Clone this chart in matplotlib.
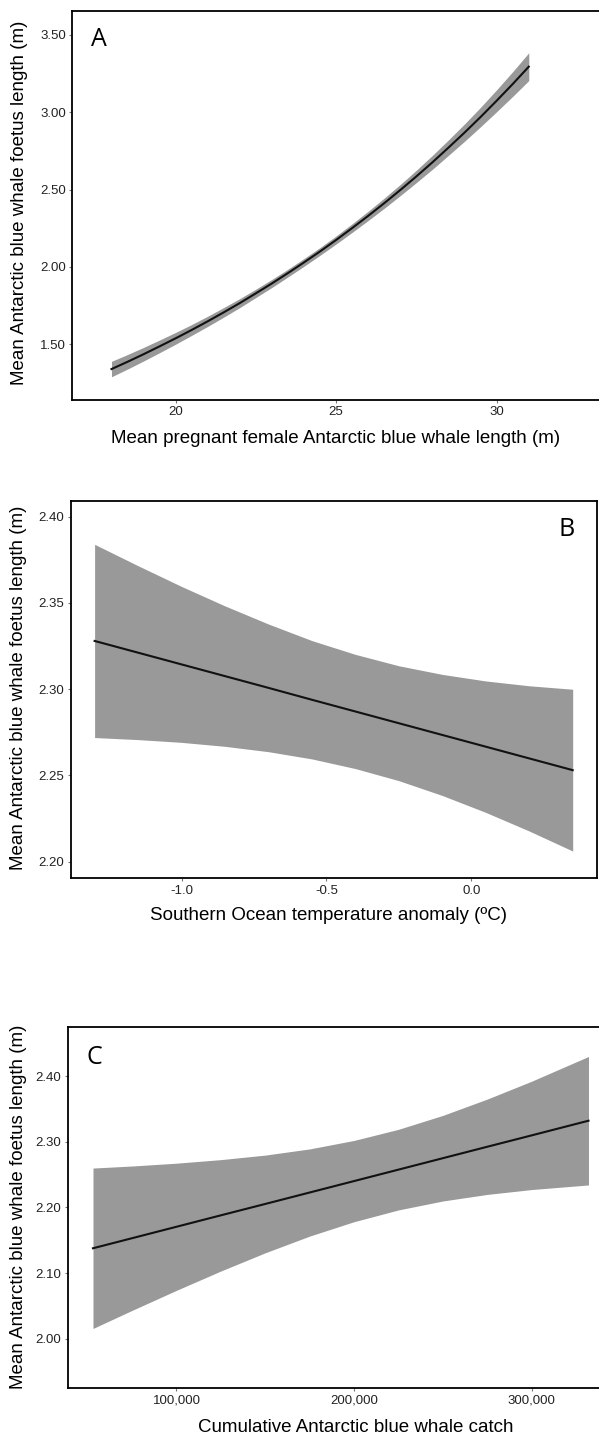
import numpy as np
import matplotlib
matplotlib.use("Agg")
import matplotlib.pyplot as plt
from matplotlib.ticker import FuncFormatter

plt.rcParams["axes.unicode_minus"] = False

# panel A: foetus length vs mother length (fit and half-width of the band)
a_x = [18, 18.5, 19, 19.5, 20, 20.5, 21, 21.5, 22, 22.5, 23, 23.5, 24, 24.5,
       25, 25.5, 26, 26.5, 27, 27.5, 28, 28.5, 29, 29.5, 30, 30.5, 31]
a_fit = [1.340, 1.387, 1.436, 1.487, 1.539, 1.593, 1.649, 1.707, 1.767, 1.830,
         1.894, 1.961, 2.030, 2.101, 2.175, 2.252, 2.331, 2.413, 2.498, 2.586,
         2.677, 2.772, 2.869, 2.970, 3.075, 3.183, 3.295]
a_hw = [0.050, 0.047, 0.044, 0.041, 0.038, 0.035, 0.033, 0.031, 0.029, 0.027,
        0.026, 0.025, 0.025, 0.025, 0.026, 0.028, 0.030, 0.033, 0.036, 0.040,
        0.045, 0.050, 0.056, 0.063, 0.071, 0.080, 0.090]

# panel B: temperature anomaly
b_x = [-1.30, -1.15, -1.00, -0.85, -0.70, -0.55, -0.40, -0.25, -0.10, 0.05, 0.20, 0.35]
b_fit = [2.3280, 2.3212, 2.3144, 2.3076, 2.3008, 2.2939, 2.2871, 2.2803, 2.2735, 2.2667, 2.2599, 2.2531]
b_hw = [0.0560, 0.0504, 0.0452, 0.0407, 0.0370, 0.0343, 0.0331, 0.0333, 0.0351, 0.0381, 0.0421, 0.0469]

# panel C: cumulative catch
c_x = [53000, 75000, 100000, 125000, 150000, 175000, 200000, 225000, 250000, 275000, 300000, 332000]
c_fit = [2.1380, 2.1533, 2.1707, 2.1881, 2.2054, 2.2228, 2.2402, 2.2576, 2.2750, 2.2924, 2.3097, 2.3320]
c_hw = [0.1220, 0.1098, 0.0967, 0.0847, 0.0743, 0.0663, 0.0618, 0.0613, 0.0651, 0.0725, 0.0824, 0.0977]

ylab = "Mean Antarctic blue whale foetus length (m)"
W, H = 599, 1436
fig = plt.figure(figsize=(W / 100, H / 100), dpi=100)

def box(l, r, t, b):
    return [l / W, (H - b) / H, (r - l) / W, (b - t) / H]

tickfont = ["Liberation Sans Narrow", "Liberation Sans", "DejaVu Sans"]
labfont = ["Liberation Sans", "DejaVu Sans"]

def panel(pos, x, fit, hw, xlim, ylim, xticks, yticks, xfmt, yfmt):
    ax = fig.add_axes(pos)
    fit = np.array(fit)
    hw = np.array(hw)
    ax.fill_between(x, fit - hw, fit + hw, color="#999999", lw=0)
    ax.plot(x, fit, color="#111111", lw=1.5)
    ax.set_xlim(*xlim)
    ax.set_ylim(*ylim)
    ax.set_xticks(xticks)
    ax.set_yticks(yticks)
    ax.xaxis.set_major_formatter(FuncFormatter(xfmt))
    ax.yaxis.set_major_formatter(FuncFormatter(yfmt))
    for s in ax.spines.values():
        s.set_linewidth(1.3)
        s.set_color("black")
    ax.tick_params(length=2.5, width=0.8, color="#777777", pad=2,
                   labelsize=9.5, labelcolor="#222222")
    for lab in ax.get_xticklabels() + ax.get_yticklabels():
        lab.set_family(tickfont)
    return ax

f2 = lambda v, p: f"{v:.2f}"
panel(box(72, 601, 11, 400), a_x, a_fit, a_hw, (16.77, 33.25), (1.14, 3.655),
      [20, 25, 30], [1.5, 2.0, 2.5, 3.0, 3.5], lambda v, p: f"{v:.0f}", f2)
panel(box(70.7, 596.6, 500.7, 878.3), b_x, b_fit, b_hw, (-1.3825, 0.4325), (2.1904, 2.4093),
      [-1.0, -0.5, 0.0], [2.20, 2.25, 2.30, 2.35, 2.40], lambda v, p: f"{v:.1f}", f2)
panel(box(67.6, 613, 1026.7, 1388.3), c_x, c_fit, c_hw, (38700, 345800), (1.925, 2.475),
      [100000, 200000, 300000], [2.0, 2.1, 2.2, 2.3, 2.4], lambda v, p: f"{v:,.0f}", f2)

def ftext(x, y, s, **kw):
    fig.text(x / W, 1 - y / H, s, ha="center", va="center", **kw)

# axis titles
ftext(20, 203, ylab, rotation=90, fontsize=13.5, family=labfont)
ftext(19, 688, ylab, rotation=90, fontsize=13.5, family=labfont)
ftext(19, 1207, ylab, rotation=90, fontsize=13.5, family=labfont)
ftext(336, 438, "Mean pregnant female Antarctic blue whale length (m)", fontsize=13.5, family=labfont)
ftext(328, 915, "Southern Ocean temperature anomaly (ºC)", fontsize=13.5, family=labfont)
ftext(356, 1427, "Cumulative Antarctic blue whale catch", fontsize=13.5, family=labfont)

# panel letters
ftext(99, 39, "A", fontsize=18, family=["Open Sans", "DejaVu Sans"])
ftext(567, 529, "B", fontsize=18, family=["Open Sans", "DejaVu Sans"])
ftext(94, 1057, "C", fontsize=18, family=["Open Sans", "DejaVu Sans"])

fig.savefig("out.png", dpi=100)
